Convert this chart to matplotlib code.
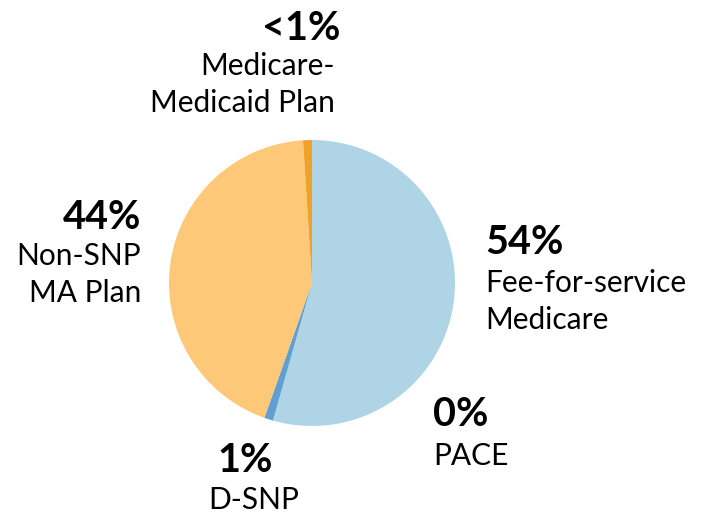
import matplotlib.pyplot as plt

# shares of enrollees (percent), clockwise from 12 o'clock
categories = ["Fee-for-service\nMedicare", "PACE", "D-SNP", "Non-SNP\nMA Plan",
              "Medicare-\nMedicaid Plan"]
shares = [54.4, 0.0, 1.0, 43.6, 1.0]
pct_labels = ["54%", "0%", "1%", "44%", "<1%"]
colors = ["#aed4e6", "#7fb4dc", "#5f9fd2", "#fdc978", "#f0a128"]

W, H = 701, 513
fig = plt.figure(figsize=(W / 100, H / 100), dpi=100)

cx, cy, r = 312, 283, 143
ax = fig.add_axes([(cx - r) / W, (H - cy - r) / H, 2 * r / W, 2 * r / H])
ax.pie(shares, colors=colors, startangle=90, counterclock=False,
       wedgeprops=dict(linewidth=0))
ax.set_xlim(-1, 1)
ax.set_ylim(-1, 1)
ax.set_aspect("equal")
ax.axis("off")

FONT = "Lato"
LINE = 37  # px between label lines


def put(x, y, s, ha, bold=False, size=21.5):
    # x, y in pixels from top-left; y is the text baseline
    fig.text(x / W, 1 - y / H, s, ha=ha, va="baseline", family=FONT,
             fontweight="bold" if bold else "normal", fontsize=size)


# (pct x, pct baseline, label x, label baseline, alignment) per category
label_pos = [
    (485, 254, 485, 292, "left"),
    (433, 426, 433, 465, "left"),
    (245, 472, 254, 509, "center"),
    (141, 229, 141, 265, "right"),
    (340, 40, 335, 75, "right"),
]

for cat, pct, (px, py, lx, ly, ha) in zip(categories, pct_labels, label_pos):
    put(px, py, pct, ha, bold=True, size=28.5)
    for i, line in enumerate(cat.split("\n")):
        put(lx, ly + i * LINE, line, ha)

fig.savefig("out.png", dpi=100)
